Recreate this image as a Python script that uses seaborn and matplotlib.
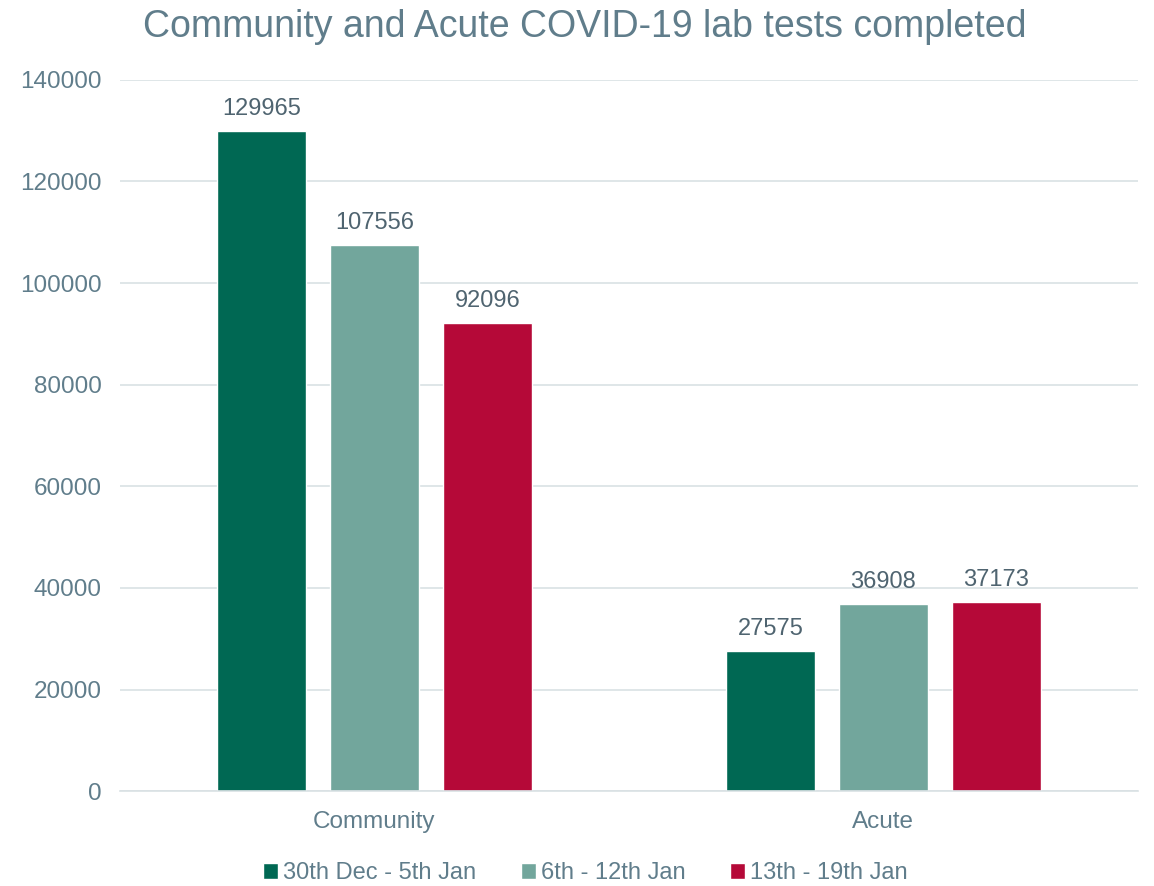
import matplotlib
matplotlib.use("Agg")
import matplotlib.pyplot as plt
import seaborn as sns
import pandas as pd

categories = ["Community", "Acute"]
periods = ["30th Dec - 5th Jan", "6th - 12th Jan", "13th - 19th Jan"]
community_tests = [129965, 107556, 92096]
acute_tests = [27575, 36908, 37173]
period_colors = ["#006853", "#72a69c", "#b50938"]

rows = []
for p, c, a in zip(periods, community_tests, acute_tests):
    rows.append({"category": "Community", "period": p, "tests": c})
    rows.append({"category": "Acute", "period": p, "tests": a})
df = pd.DataFrame(rows)

sns.set_style("white")
plt.rcParams["font.family"] = ["Liberation Sans", "DejaVu Sans"]

text_col = "#607d8b"
label_col = "#4f6470"
grid_col = "#d9e1e4"

fig = plt.figure(figsize=(11.54, 8.86), dpi=100)
ax = fig.add_axes([0.104, 0.107, 0.882, 0.803])

sns.barplot(data=df, x="category", y="tests", hue="period", order=categories,
            hue_order=periods, palette=period_colors, width=0.666, gap=0.21,
            saturation=1, errorbar=None, legend=True, ax=ax)

for cont in ax.containers:
    ax.bar_label(cont, fmt="%d", padding=8, fontsize=17, color=label_col)

ax.set_ylim(0, 140000)
ax.set_xlim(-0.5, 1.5)
ax.set_yticks(range(0, 140001, 20000))
ax.yaxis.grid(True, color=grid_col, linewidth=1.2)
ax.set_axisbelow(True)
for s in ["left", "right", "top"]:
    ax.spines[s].set_visible(False)
ax.spines["bottom"].set_color(grid_col)
ax.spines["bottom"].set_linewidth(1.2)
ax.tick_params(axis="both", length=0, labelsize=17.5, labelcolor=text_col)
ax.tick_params(axis="y", pad=13)
ax.tick_params(axis="x", pad=14)
ax.set_xlabel("")
ax.set_ylabel("")

ax.legend(loc="upper center", bbox_to_anchor=(0.457, -0.07), ncol=3, frameon=False,
          fontsize=17, labelcolor=text_col, handlelength=0.65, handleheight=0.65,
          handletextpad=0.2, columnspacing=1.9)

fig.suptitle("Community and Acute COVID-19 lab tests completed", fontsize=27,
             color=text_col, x=0.507, y=0.99)

fig.savefig("out.png", dpi=100)
